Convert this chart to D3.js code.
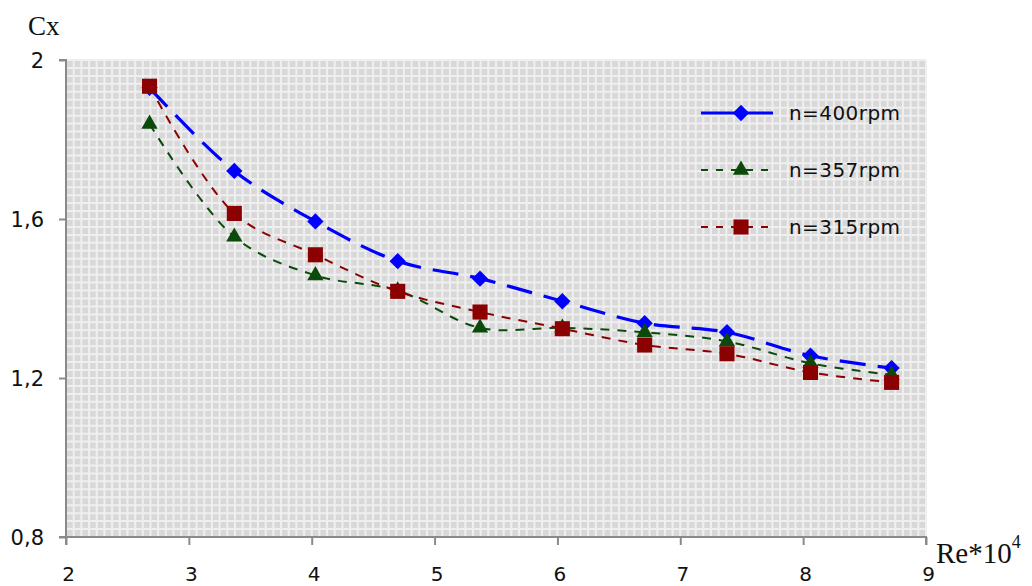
<!DOCTYPE html>
<html>
<head>
<meta charset="utf-8">
<script src="https://cdn.jsdelivr.net/npm/d3@7"></script>
<style>
  html, body { margin: 0; padding: 0; background: #ffffff; }
  svg { display: block; }
</style>
</head>
<body>
<svg id="chart" width="1032" height="586"></svg>
<script>
// Reynolds number (×10^4) at each measurement point
const reValues = [2.68, 3.37, 4.03, 4.70, 5.37, 6.04, 6.71, 7.38, 8.06, 8.72];

// Drag coefficient Cx for each rotation speed
const cx400 = [1.930, 1.721, 1.594, 1.494, 1.450, 1.393, 1.338, 1.315, 1.256, 1.225];
const cx357 = [1.839, 1.555, 1.458, 1.420, 1.326, 1.326, 1.315, 1.292, 1.237, 1.208];
const cx315 = [1.934, 1.614, 1.510, 1.418, 1.366, 1.324, 1.283, 1.261, 1.214, 1.189];

const seriesNames = ["n=400rpm", "n=357rpm", "n=315rpm"];

const xTicks = [2, 3, 4, 5, 6, 7, 8, 9];
const yTicks = [0.8, 1.2, 1.6, 2.0];
const yTickLabels = ["0,8", "1,2", "1,6", "2"];

const svg = d3.select("#chart");

const plotL = 66, plotR = 926, plotT = 60, plotB = 537;
const x = d3.scaleLinear().domain([2, 9]).range([plotL, plotR]);
const y = d3.scaleLinear().domain([0.8, 2.0]).range([plotB, plotT]);

// Plot area: fine grey grid
svg.append("rect")
  .attr("x", plotL).attr("y", plotT)
  .attr("width", plotR - plotL).attr("height", plotB - plotT)
  .attr("fill", "#d8d8d8");

const gridX = d3.range(2, 9.0001, 1 / 16);
const gridY = d3.range(0.8, 2.0001, 0.02);
const grid = svg.append("g").attr("stroke", "#efefef").attr("stroke-width", 2);
grid.selectAll("line.gx").data(gridX).join("line")
  .attr("class", "gx")
  .attr("x1", d => x(d)).attr("x2", d => x(d))
  .attr("y1", plotT).attr("y2", plotB);
grid.selectAll("line.gy").data(gridY).join("line")
  .attr("class", "gy")
  .attr("x1", plotL).attr("x2", plotR)
  .attr("y1", d => y(d)).attr("y2", d => y(d));

// Axes
const axisColor = "#8a8a8a";
const xAxis = svg.append("g")
  .attr("transform", `translate(0,${plotB})`)
  .call(d3.axisBottom(x).tickValues(xTicks).tickSize(8).tickFormat(d3.format("d")));
const yAxis = svg.append("g")
  .attr("transform", `translate(${plotL},0)`)
  .call(d3.axisLeft(y).tickValues(yTicks).tickSize(7)
    .tickFormat((d, i) => yTickLabels[i]));

[xAxis, yAxis].forEach(g => {
  g.select(".domain").attr("stroke", axisColor).attr("stroke-width", 2);
  g.selectAll(".tick line").attr("stroke", axisColor).attr("stroke-width", 2);
  g.selectAll(".tick text")
    .attr("fill", "#111")
    .style("font-family", "'DejaVu Sans', sans-serif")
    .style("font-size", "21px");
});
xAxis.select(".domain").attr("d", `M${plotL},8V0H${plotR}V8`);
yAxis.select(".domain").attr("d", `M-7,${plotT}H0V${plotB}H-7`);
xAxis.selectAll(".tick text").attr("dy", "0").attr("y", 44).attr("dx", 2)
  .style("font-size", "20px");
yAxis.selectAll(".tick text").attr("x", -22).attr("dy", "0.36em");

// Axis titles
svg.append("text")
  .attr("x", 28).attr("y", 35)
  .style("font-family", "'Liberation Serif', 'Times New Roman', serif")
  .style("font-size", "27px")
  .attr("fill", "#111")
  .text("Cx");

const reTitle = svg.append("text")
  .attr("x", 936).attr("y", 563)
  .style("font-family", "'Liberation Serif', 'Times New Roman', serif")
  .style("font-size", "29px")
  .attr("fill", "#111");
reTitle.append("tspan").text("Re*10");
reTitle.append("tspan").attr("dy", -15).style("font-size", "18px").text("4");

// Series
const series = [
  { name: seriesNames[0], values: cx400, color: "#0000ff", width: 3.2, dash: "26,12", marker: "diamond" },
  { name: seriesNames[1], values: cx357, color: "#0b4a0b", width: 2, dash: "9,8", marker: "triangle" },
  { name: seriesNames[2], values: cx315, color: "#8b0000", width: 2, dash: "9,8", marker: "square" }
];

const symbolOf = {
  diamond: d3.symbol().type(d3.symbolDiamond2).size(170),
  triangle: d3.symbol().type(d3.symbolTriangle2).size(190),
  square: d3.symbol().type(d3.symbolSquare2).size(290)
};

const line = d3.line()
  .x((d, i) => x(reValues[i]))
  .y(d => y(d))
  .curve(d3.curveCatmullRom.alpha(0.5));

series.forEach(s => {
  const g = svg.append("g");
  g.append("path")
    .datum(s.values)
    .attr("d", line)
    .attr("fill", "none")
    .attr("stroke", s.color)
    .attr("stroke-width", s.width)
    .attr("stroke-dasharray", s.dash);
  g.selectAll("path.mk").data(s.values).join("path")
    .attr("class", "mk")
    .attr("transform", (d, i) => `translate(${x(reValues[i])},${y(d)})`)
    .attr("d", symbolOf[s.marker])
    .attr("fill", s.color);
});

// Legend
const legendY = [113, 170, 227];
const legend = svg.append("g");
series.forEach((s, i) => {
  const ly = legendY[i];
  legend.append("line")
    .attr("x1", 701).attr("x2", 773)
    .attr("y1", ly).attr("y2", ly)
    .attr("stroke", s.color)
    .attr("stroke-width", s.width)
    .attr("stroke-dasharray", i === 0 ? null : "7,8");
  legend.append("path")
    .attr("transform", `translate(741,${ly})`)
    .attr("d", symbolOf[s.marker])
    .attr("fill", s.color);
  legend.append("text")
    .attr("x", 789).attr("y", ly + 7)
    .attr("textLength", 111)
    .attr("lengthAdjust", "spacing")
    .style("font-family", "'DejaVu Sans', sans-serif")
    .style("font-size", "20px")
    .attr("fill", "#111")
    .text(s.name);
});
</script>
</body>
</html>
